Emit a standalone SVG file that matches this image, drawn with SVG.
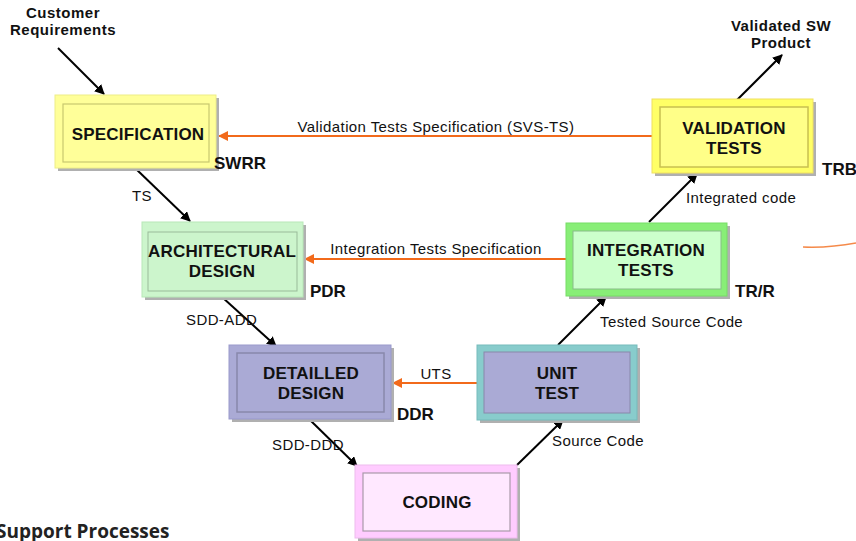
<svg xmlns="http://www.w3.org/2000/svg" width="856" height="541" viewBox="0 0 856 541">
<defs>
<marker id="ab" viewBox="0 0 10 10" refX="9" refY="5" markerWidth="5" markerHeight="5" orient="auto"><path d="M0,0 L10,5 L0,10 z" fill="#000"/></marker>
<marker id="ao" viewBox="0 0 10 10" refX="9" refY="5" markerWidth="5" markerHeight="5" orient="auto"><path d="M0,0 L10,5 L0,10 z" fill="#f26a1b"/></marker>
</defs>
<style>
.t{font-family:"Liberation Sans",Arial,sans-serif;font-weight:bold;font-size:17px;letter-spacing:0.2px;fill:#111;text-anchor:middle}
.l{font-family:"Liberation Sans",Arial,sans-serif;font-size:15px;letter-spacing:0.4px;fill:#111}
.b{font-family:"Liberation Sans",Arial,sans-serif;font-weight:bold;font-size:17px;fill:#111}
.c{font-family:"Liberation Sans",Arial,sans-serif;font-weight:bold;font-size:15px;letter-spacing:0.5px;fill:#111;text-anchor:middle}
.sh{fill:#b0b0b0}
.k{stroke:#000;stroke-width:2;fill:none;marker-end:url(#ab)}
.o{stroke:#f26a1b;stroke-width:2;fill:none;marker-end:url(#ao)}
</style>
<rect width="856" height="541" fill="#fff"/>
<g id="connectors">
<line class="k" x1="58" y1="48" x2="104" y2="94"/>
<line class="k" x1="737" y1="100" x2="782" y2="55"/>
<line class="k" x1="135" y1="168" x2="190" y2="221"/>
<line class="k" x1="649" y1="222" x2="697" y2="174"/>
<line class="k" x1="222" y1="297" x2="276" y2="346"/>
<line class="k" x1="558" y1="345" x2="606" y2="297"/>
<line class="k" x1="310" y1="420" x2="357" y2="466"/>
<line class="k" x1="517" y1="465" x2="563" y2="420"/>
<line class="o" x1="652" y1="136" x2="219" y2="136"/>
<line class="o" x1="566" y1="259" x2="305" y2="259"/>
<line class="o" x1="477" y1="383" x2="393" y2="383"/>
<path d="M803,247 Q830,248 856,243" stroke="#f58a4a" stroke-width="1.5" fill="none"/>
<text class="l" x="436" y="132" text-anchor="middle">Validation Tests Specification (SVS-TS)</text>
<text class="l" x="436" y="254" text-anchor="middle">Integration Tests Specification</text>
<text class="l" x="436" y="379" text-anchor="middle">UTS</text>
<text class="l" x="132" y="201">TS</text>
<text class="l" x="686" y="203">Integrated code</text>
<text class="l" x="186" y="325">SDD-ADD</text>
<text class="l" x="600" y="327">Tested Source Code</text>
<text class="l" x="272" y="450">SDD-DDD</text>
<text class="l" x="552" y="446">Source Code</text>
</g>
<g id="customer"><text class="c" x="63" y="18">Customer</text><text class="c" x="63" y="35">Requirements</text></g>
<g id="product"><text class="c" x="781" y="31">Validated SW</text><text class="c" x="781" y="48">Product</text></g>
<g id="specification">
<rect class="sh" x="58" y="98" width="161" height="73"/>
<rect x="55" y="95" width="161" height="73" fill="#ffff99" stroke="#eeee88" stroke-width="1"/>
<rect x="63" y="104" width="146" height="58" fill="none" stroke="#c8c870" stroke-width="1.2"/>
<text class="t" x="138" y="140">SPECIFICATION</text>
<text class="b" x="214" y="169">SWRR</text>
</g>
<g id="validation">
<rect class="sh" x="655" y="102" width="161" height="74"/>
<rect x="652" y="99" width="161" height="74" fill="#ffff66" stroke="#f0e060" stroke-width="1"/>
<rect x="660" y="107" width="148" height="60" fill="#ffff88" stroke="#c8c050" stroke-width="1.5"/>
<text class="t" x="734" y="134">VALIDATION</text>
<text class="t" x="734" y="154">TESTS</text>
<text class="b" x="822" y="175">TRB</text>
</g>
<g id="architectural">
<rect class="sh" x="145" y="225" width="161" height="75"/>
<rect x="142" y="222" width="161" height="75" fill="#ccf5cc" stroke="#b8e8b8" stroke-width="1"/>
<rect x="148" y="232" width="149" height="59" fill="none" stroke="#99bb99" stroke-width="1"/>
<text class="t" x="222" y="257">ARCHITECTURAL</text>
<text class="t" x="222" y="277">DESIGN</text>
<text class="b" x="310" y="297">PDR</text>
</g>
<g id="integration">
<rect class="sh" x="569" y="226" width="161" height="73"/>
<rect x="566" y="223" width="161" height="73" fill="#88ee77" stroke="#77dd66" stroke-width="1"/>
<rect x="573" y="231" width="148" height="58" fill="#ccffcc" stroke="#88bb88" stroke-width="1"/>
<text class="t" x="646" y="256">INTEGRATION</text>
<text class="t" x="646" y="276">TESTS</text>
<text class="b" x="735" y="297">TR/R</text>
</g>
<g id="detailed">
<rect class="sh" x="232" y="348" width="162" height="74"/>
<rect x="229" y="345" width="162" height="74" fill="#aaaad5" stroke="#9999cc" stroke-width="1"/>
<rect x="237" y="353" width="147" height="59" fill="none" stroke="#8888aa" stroke-width="1.5"/>
<text class="t" x="311" y="379">DETAILLED</text>
<text class="t" x="311" y="399">DESIGN</text>
<text class="b" x="397" y="420">DDR</text>
</g>
<g id="unittest">
<rect class="sh" x="480" y="348" width="160" height="75"/>
<rect x="477" y="345" width="160" height="75" fill="#88cccc" stroke="#77bbbb" stroke-width="1"/>
<rect x="484" y="352" width="146" height="61" fill="#aaaad5" stroke="#8888aa" stroke-width="1"/>
<text class="t" x="557" y="379">UNIT</text>
<text class="t" x="557" y="399">TEST</text>
</g>
<g id="coding">
<rect class="sh" x="358" y="468" width="162" height="73"/>
<rect x="355" y="465" width="162" height="73" fill="#ffccff" stroke="#eebbee" stroke-width="1"/>
<rect x="363" y="473" width="147" height="58" fill="#ffe8ff" stroke="#aa99aa" stroke-width="1.2"/>
<text class="t" x="437" y="508">CODING</text>
</g>
<text x="-4" y="538" style="font-family:'Open Sans','Noto Sans',sans-serif;font-weight:bold;font-size:19px;fill:#222">Support Processes</text>
</svg>
